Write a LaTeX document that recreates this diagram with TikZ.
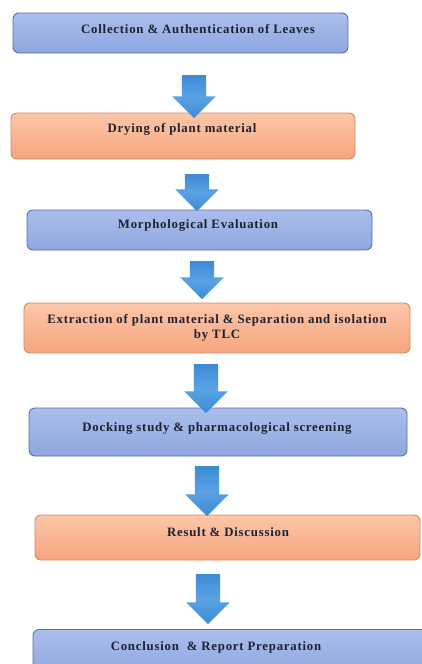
\documentclass[tikz,border=0pt]{standalone}
\usepackage{fontspec}
\setmainfont{Liberation Serif}
\newfontfamily\stepfont[LetterSpace=6]{Liberation Serif}
\usetikzlibrary{shapes.arrows}
\definecolor{bluetop}{HTML}{ABBEEC}
\definecolor{bluebot}{HTML}{8EA7E0}
\definecolor{blueline}{HTML}{5570A8}
\definecolor{orangetop}{HTML}{FCC7A9}
\definecolor{orangebot}{HTML}{F6A47E}
\definecolor{orangeline}{HTML}{CC8A66}
\definecolor{arrowblue}{HTML}{3D8BD6}
\definecolor{arrowlight}{HTML}{5AA2E3}
\definecolor{textdark}{HTML}{1E2030}
\tikzset{stepbox/.style={rounded corners=6pt, inner sep=0pt, line width=0.9pt}}
\tikzset{bluebox/.style={stepbox, draw=blueline, top color=bluetop, bottom color=bluebot}}
\tikzset{orangebox/.style={stepbox, draw=orangeline, top color=orangetop, bottom color=orangebot}}
\tikzset{steptext/.style={font=\stepfont\bfseries\fontsize{12.8}{15}\selectfont, text=textdark, inner sep=0pt, align=center}}
\tikzset{downarrow/.style={single arrow, rotate=-90, inner xsep=0pt, inner ysep=12pt, single arrow head extend=9.5pt, top color=arrowblue, bottom color=arrowblue, middle color=arrowlight, draw=none}}

\begin{document}
\begin{tikzpicture}[x=1pt,y=-1pt]
\useasboundingbox (0,0) rectangle (422,664);

% boxes
\node (b1) at (180.5,33)[bluebox, minimum width=335pt, minimum height=40pt]{};
\node (b2) at (183,136)[orangebox, minimum width=344pt, minimum height=46pt]{};
\node (b3) at (199.5,230)[bluebox, minimum width=345pt, minimum height=40pt]{};
\node (b4) at (217,328)[orangebox, minimum width=386pt, minimum height=50pt]{};
\node (b5) at (218,432)[bluebox, minimum width=378pt, minimum height=48pt]{};
\node (b6) at (227.5,537.5)[orangebox, minimum width=385pt, minimum height=45pt]{};
\node (b7) at (230,652)[bluebox, minimum width=394pt, minimum height=45pt]{};%runs off the page

% texts
\node (t1) at (198,29)[steptext]{Collection \& Authentication of Leaves};
\node (t2) at (182,129)[steptext]{Drying of plant material};
\node (t3) at (198,225)[steptext]{Morphological Evaluation};
\node (t4) at (217,328)[steptext]{Extraction of plant material \& Separation and isolation\\by TLC};
\node (t5) at (217,428)[steptext]{Docking study \& pharmacological screening};
\node (t6) at (228,532)[steptext]{Result \& Discussion};
\node (t7) at (216,647)[steptext]{Conclusion\ \ \& Report Preparation};

% block arrows
\node (a1) at (194,90.5)[downarrow, minimum height=43pt]{};
\node (a2) at (197,186.5)[downarrow, minimum height=37pt]{};
\node (a3) at (202,274)[downarrow, minimum height=38pt]{};
\node (a4) at (206,382.5)[downarrow, minimum height=49pt]{};
\node (a5) at (207,485)[downarrow, minimum height=50pt]{};
\node (a6) at (208,593)[downarrow, minimum height=50pt]{};
\end{tikzpicture}
\end{document}
